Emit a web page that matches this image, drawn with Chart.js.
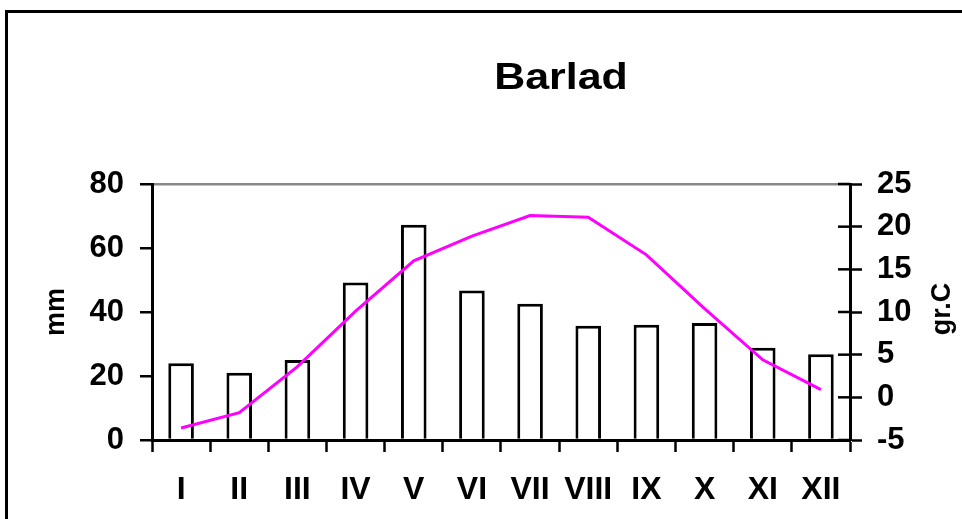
<!DOCTYPE html>
<html>
<head>
<meta charset="utf-8">
<script src="https://cdn.jsdelivr.net/npm/chart.js@4.4.0/dist/chart.umd.min.js"></script>
<style>
  html, body { margin: 0; padding: 0; background: #fff; }
</style>
</head>
<body>
<canvas id="chart" width="962" height="519"></canvas>
<script>
const MONTHS = ['I', 'II', 'III', 'IV', 'V', 'VI', 'VII', 'VIII', 'IX', 'X', 'XI', 'XII'];
const PRECIP_MM = [24, 21, 25, 49.2, 67.3, 46.7, 42.6, 35.7, 36, 36.6, 28.8, 26.8];
const TEMP_C = [-3.6, -1.8, 3.6, 10.1, 16.0, 18.9, 21.3, 21.1, 16.7, 10.4, 4.4, 0.9];
const MM_TICKS = [0, 20, 40, 60, 80];
const TEMP_TICKS = [-5, 0, 5, 10, 15, 20, 25];

const FONT = "'Liberation Sans', Arial, sans-serif";

// frame, chart title, right axis title and inner half of right ticks
const decorations = {
  id: 'decorations',
  beforeDraw(chart) {
    const ctx = chart.ctx;
    ctx.save();
    ctx.fillStyle = '#fff';
    ctx.fillRect(0, 0, chart.width, chart.height);
    ctx.strokeStyle = '#000';
    ctx.lineWidth = 3;
    ctx.beginPath();
    ctx.moveTo(6.5, chart.height);
    ctx.lineTo(6.5, 11.5);
    ctx.lineTo(chart.width, 11.5);
    ctx.stroke();
    ctx.restore();
  },
  afterDraw(chart) {
    const ctx = chart.ctx;
    const y2 = chart.scales.y2;

    ctx.save();
    ctx.strokeStyle = '#000';
    ctx.lineWidth = 2.5;
    y2.ticks.forEach((t) => {
      const py = y2.getPixelForValue(t.value);
      ctx.beginPath();
      ctx.moveTo(y2.left - 12, py);
      ctx.lineTo(y2.left, py);
      ctx.stroke();
    });
    ctx.restore();

    ctx.save();
    ctx.fillStyle = '#000';
    ctx.font = `bold 37px ${FONT}`;
    ctx.textAlign = 'center';
    ctx.textBaseline = 'alphabetic';
    ctx.translate(561, 89);
    ctx.scale(1.16, 1);
    ctx.fillText('Barlad', 0, 0);
    ctx.restore();

    ctx.save();
    ctx.fillStyle = '#000';
    ctx.font = `bold 27px ${FONT}`;
    ctx.textAlign = 'center';
    ctx.textBaseline = 'middle';
    ctx.translate(943, 309);
    ctx.rotate(-Math.PI / 2);
    ctx.fillText('gr.C', 0, 0);
    ctx.restore();
  }
};

new Chart(document.getElementById('chart').getContext('2d'), {
  type: 'bar',
  data: {
    labels: MONTHS,
    datasets: [
      {
        type: 'line',
        label: 'gr.C',
        data: TEMP_C,
        yAxisID: 'y2',
        borderColor: '#ff00ff',
        borderWidth: 3,
        pointRadius: 0,
        tension: 0,
        fill: false,
        order: 0,
      },
      {
        type: 'bar',
        label: 'mm',
        data: PRECIP_MM,
        yAxisID: 'y',
        backgroundColor: '#fff',
        borderColor: '#000',
        borderWidth: 3,
        barPercentage: 0.44,
        categoryPercentage: 1,
        order: 1,
      },
    ],
  },
  options: {
    responsive: false,
    animation: false,
    layout: { padding: { top: 184, left: 0, right: 0, bottom: 0 } },
    plugins: {
      legend: { display: false },
      tooltip: { enabled: false },
      title: { display: false },
    },
    scales: {
      x: {
        offset: true,
        grid: { offset: true, drawOnChartArea: false, tickLength: 12, tickWidth: 2.5, tickColor: '#000' },
        border: { display: true, color: '#000', width: 3 },
        ticks: {
          color: '#000',
          font: { family: FONT, size: 32, weight: 'bold' },
          padding: 19,
          maxRotation: 0,
          autoSkip: false,
        },
        afterFit: (s) => { s.height = 79; },
      },
      y: {
        position: 'left',
        min: 0,
        max: 80,
        afterBuildTicks: (s) => { s.ticks = MM_TICKS.map((v) => ({ value: v })); },
        grid: {
          color: (c) => (c.tick && c.tick.value === 80 ? '#888888' : 'rgba(0,0,0,0)'),
          lineWidth: 2.5,
          tickColor: '#000',
          tickLength: 12,
          tickWidth: 2.5,
        },
        border: { color: '#000', width: 3 },
        ticks: { color: '#000', font: { family: FONT, size: 31, weight: 'bold' }, padding: 16 },
        title: {
          display: true,
          text: 'mm',
          color: '#000',
          font: { family: FONT, size: 27, weight: 'bold' },
          padding: { top: 40, bottom: 0 },
        },
        afterFit: (s) => { s.width = 152; },
      },
      y2: {
        position: 'right',
        min: -5,
        max: 25,
        afterBuildTicks: (s) => { s.ticks = TEMP_TICKS.map((v) => ({ value: v })); },
        grid: { drawOnChartArea: false, tickColor: '#000', tickLength: 12, tickWidth: 2.5 },
        border: { color: '#000', width: 3 },
        ticks: { color: '#000', font: { family: FONT, size: 31, weight: 'bold' }, padding: 15 },
        afterFit: (s) => { s.width = 112; },
      },
    },
  },
  plugins: [decorations],
});
</script>
</body>
</html>
